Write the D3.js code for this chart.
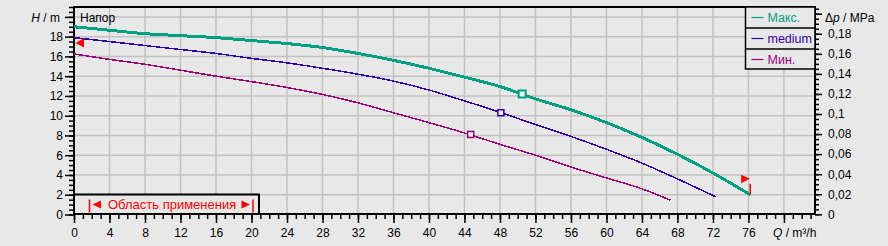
<!DOCTYPE html>
<html>
<head>
<meta charset="utf-8">
<script src="https://cdn.jsdelivr.net/npm/d3@7"></script>
<style>
  body { margin: 0; background: #e8e8e8; }
  svg { display: block; font-family: "Liberation Sans", Arial, sans-serif; }
</style>
</head>
<body>
<div id="chart"></div>
<script>
// flow Q (m3/h) and head H (m)
var qMax = [0, 4, 8, 12, 16, 20, 24, 28, 32, 36, 40, 44, 48, 52, 56, 60, 64, 68, 72, 76.2];
var hMax = [19.0, 18.65, 18.3, 18.1, 17.9, 17.6, 17.3, 16.9, 16.3, 15.6, 14.8, 13.9, 12.95, 11.7, 10.6, 9.3, 7.8, 6.1, 4.2, 2.0];

var qMed = [0, 4, 8, 12, 16, 20, 24, 28, 32, 36, 40, 44, 48, 52, 56, 60, 64, 68, 72.3];
var hMed = [17.9, 17.5, 17.1, 16.7, 16.3, 15.8, 15.35, 14.8, 14.2, 13.5, 12.6, 11.5, 10.35, 9.1, 7.9, 6.6, 5.2, 3.6, 1.8];

var qMin = [0, 4, 8, 12, 16, 20, 24, 28, 32, 36, 40, 44, 48, 52, 56, 60, 64, 67.2];
var hMin = [16.25, 15.7, 15.2, 14.6, 14.0, 13.45, 12.85, 12.15, 11.3, 10.3, 9.3, 8.25, 7.1, 6.0, 4.8, 3.7, 2.6, 1.45];

// operating point markers [Q, H]
var markMax = [50.5, 12.2];
var markMed = [48.1, 10.3];
var markMin = [44.7, 8.1];

var seriesNames = ["Макс.", "medium", "Мин."];
var seriesColors = ["#00a082", "#3300aa", "#a00078"];

var xTicks = [0, 4, 8, 12, 16, 20, 24, 28, 32, 36, 40, 44, 48, 52, 56, 60, 64, 68, 72, 76];
var yTicks = [0, 2, 4, 6, 8, 10, 12, 14, 16, 18];
var pTicks = [0, 0.02, 0.04, 0.06, 0.08, 0.1, 0.12, 0.14, 0.16, 0.18];

var svg = d3.select("#chart")
    .append("svg")
    .attr("width", 888)
    .attr("height", 246);

// scales
var x = d3.scaleLinear().domain([0, 83.5]).range([74, 815]);
var y = d3.scaleLinear().domain([0, 21]).range([214.5, 7]);
var yP = d3.scaleLinear().domain([0, 0.2067]).range([214.3, 7]);

// grid
svg.append("g")
    .selectAll("line")
    .data(d3.range(4, 84, 4))
    .enter()
    .append("line")
    .attr("x1", function (d) { return x(d); })
    .attr("x2", function (d) { return x(d); })
    .attr("y1", 7)
    .attr("y2", 214)
    .attr("stroke", "#c2c2c2")
    .attr("stroke-width", 1.5);

svg.append("g")
    .selectAll("line")
    .data(d3.range(2, 22, 2))
    .enter()
    .append("line")
    .attr("x1", 74)
    .attr("x2", 815)
    .attr("y1", function (d) { return y(d); })
    .attr("y2", function (d) { return y(d); })
    .attr("stroke", "#c2c2c2")
    .attr("stroke-width", 1.5);

// axes
function styleAxis(g) {
    g.select(".domain").remove();
    g.selectAll(".tick line").attr("stroke", "#000").attr("stroke-width", 1.5);
    g.selectAll(".tick text").attr("fill", "#000").style("font-size", "12px")
        .style("font-family", "'Liberation Sans', Arial, sans-serif");
}

svg.append("g")
    .attr("transform", "translate(74,0)")
    .call(d3.axisLeft(y).tickValues(d3.range(0, 21.1, 0.5)).tickSize(5).tickFormat(""))
    .call(styleAxis);
svg.append("g")
    .attr("transform", "translate(74,0)")
    .call(d3.axisLeft(y).tickValues(yTicks.concat([20])).tickSize(9).tickPadding(2)
        .tickFormat(function (d) { return d === 20 ? "" : d; }))
    .call(styleAxis);

svg.append("g")
    .attr("transform", "translate(815,0)")
    .call(d3.axisRight(yP).tickValues(d3.range(0, 0.2051, 0.005)).tickSize(4).tickFormat(""))
    .call(styleAxis);
svg.append("g")
    .attr("transform", "translate(815,0)")
    .call(d3.axisRight(yP).tickValues(pTicks.concat([0.2])).tickSize(7).tickPadding(6)
        .tickFormat(function (d) { return d === 0.2 ? "" : String(+d.toFixed(2)).replace(".", ","); }))
    .call(styleAxis);

svg.append("g")
    .attr("transform", "translate(0,214)")
    .call(d3.axisBottom(x).tickValues(d3.range(0, 84, 1)).tickSize(5).tickFormat(""))
    .call(styleAxis);
svg.append("g")
    .attr("transform", "translate(0,214)")
    .call(d3.axisBottom(x).tickValues(xTicks.concat([80])).tickSize(9).tickPadding(5)
        .tickFormat(function (d) { return d === 80 ? "" : d; }))
    .call(styleAxis);

// frame
svg.append("path")
    .attr("d", "M74,214 L74,7 L815,7 L815,214 M73,214 L816,214")
    .attr("fill", "none")
    .attr("stroke", "#000")
    .attr("stroke-width", 2);

// axis labels
var hLab = svg.append("text").attr("x", 60).attr("y", 21.5).attr("text-anchor", "end")
    .style("font-size", "12px");
hLab.append("tspan").style("font-style", "italic").text("H");
hLab.append("tspan").text(" / m");

var pLab = svg.append("text").attr("x", 825).attr("y", 21.5).style("font-size", "12px");
pLab.append("tspan").text("Δ");
pLab.append("tspan").style("font-style", "italic").text("p");
pLab.append("tspan").text(" / MPa");

var qLab = svg.append("text").attr("x", 773).attr("y", 236.5).style("font-size", "12px");
qLab.append("tspan").style("font-style", "italic").text("Q");
qLab.append("tspan").text(" / m³/h");

svg.append("text").attr("x", 80).attr("y", 22).style("font-size", "12px").text("Напор");

// curves
var line = d3.line()
    .x(function (d) { return x(d[0]); })
    .y(function (d) { return y(d[1]); })
    .curve(d3.curveMonotoneX);

var curves = [
    { q: qMax, h: hMax, w: 3, m: markMax },
    { q: qMed, h: hMed, w: 1.5, m: markMed },
    { q: qMin, h: hMin, w: 1.5, m: markMin }
];

curves.forEach(function (c, i) {
    var pts = c.q.map(function (q, j) { return [q, c.h[j]]; });
    svg.append("path")
        .datum(pts)
        .attr("d", line)
        .attr("fill", "none")
        .attr("stroke", seriesColors[i])
        .attr("stroke-width", c.w)
        .attr("shape-rendering", "crispEdges");
});

curves.forEach(function (c, i) {
    var s = i === 0 ? 7 : 6;
    svg.append("rect")
        .attr("x", x(c.m[0]) - s / 2)
        .attr("y", y(c.m[1]) - s / 2)
        .attr("width", s)
        .attr("height", s)
        .attr("fill", "#f4f4f4")
        .attr("stroke", seriesColors[i])
        .attr("stroke-width", i === 0 ? 2 : 1.5);
});

// range flags
var lx = x(0), ly = y(17.35);
svg.append("path")
    .attr("d", "M" + (lx + 1.5) + "," + ly + " L" + (lx + 10) + "," + (ly - 5) + " L" + (lx + 10) + "," + (ly + 4.5) + "Z")
    .attr("fill", "#ff0000");

var rx = x(qMax[qMax.length - 1]), ry = y(hMax[hMax.length - 1]);
svg.append("line")
    .attr("x1", rx).attr("x2", rx)
    .attr("y1", ry).attr("y2", ry - 11)
    .attr("stroke", "#ff0000").attr("stroke-width", 1.5);
svg.append("path")
    .attr("d", "M" + (rx - 9) + "," + (ry - 20) + " L" + (rx - 0.5) + "," + (ry - 16) + " L" + (rx - 9) + "," + (ry - 11.5) + "Z")
    .attr("fill", "#ff0000");

// legend
var legend = svg.append("g");
legend.append("rect")
    .attr("x", 745.5).attr("y", 7)
    .attr("width", 69.5).attr("height", 62)
    .attr("fill", "#e8e8e8")
    .attr("stroke", "#000").attr("stroke-width", 1.5);

seriesNames.forEach(function (n, i) {
    var ry0 = 7 + i * 21;
    if (i > 0) {
        legend.append("line").attr("x1", 745.5).attr("x2", 815)
            .attr("y1", ry0).attr("y2", ry0)
            .attr("stroke", "#000").attr("stroke-width", 1.5);
    }
    legend.append("line").attr("x1", 751.5).attr("x2", 763.5)
        .attr("y1", ry0 + 10.5).attr("y2", ry0 + 10.5)
        .attr("stroke", seriesColors[i]).attr("stroke-width", 1.2);
    legend.append("text").attr("x", 767.5).attr("y", ry0 + 15)
        .attr("fill", seriesColors[i])
        .style("font-size", "12.5px")
        .text(n);
});

// application area box
var area = svg.append("g");
area.append("rect")
    .attr("x", 74).attr("y", 194.5)
    .attr("width", 185).attr("height", 19.5)
    .attr("fill", "#e8e8e8")
    .attr("stroke", "#000").attr("stroke-width", 2);
area.append("line").attr("x1", 89.5).attr("x2", 89.5).attr("y1", 199.5).attr("y2", 212.5)
    .attr("stroke", "#ff0000").attr("stroke-width", 1.5);
area.append("path").attr("d", "M92.5,204.5 L101,200.5 L101,208.5Z").attr("fill", "#ff0000");
area.append("path").attr("d", "M250,204.5 L241.5,200.5 L241.5,208.5Z").attr("fill", "#ff0000");
area.append("line").attr("x1", 253).attr("x2", 253).attr("y1", 199.5).attr("y2", 212.5)
    .attr("stroke", "#ff0000").attr("stroke-width", 1.5);
area.append("text").attr("x", 108).attr("y", 209)
    .attr("fill", "#ff0000")
    .style("font-size", "13px")
    .text("Область применения");
</script>
</body>
</html>
